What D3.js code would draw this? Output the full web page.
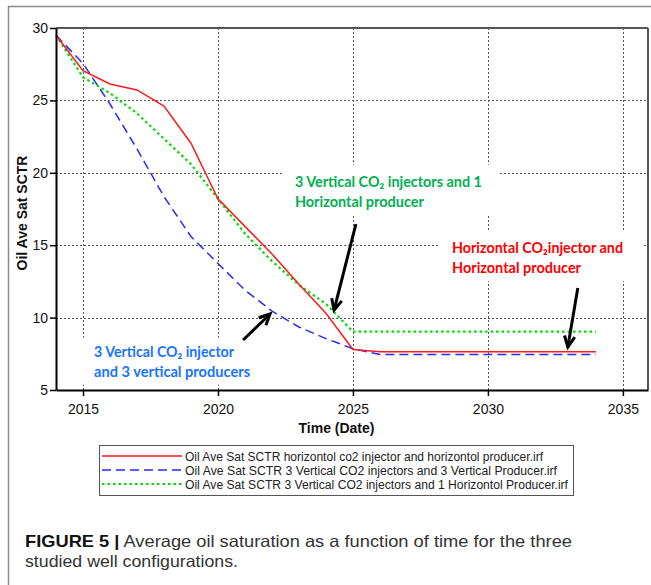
<!DOCTYPE html>
<html>
<head>
<meta charset="utf-8">
<script src="https://cdn.jsdelivr.net/npm/d3@7"></script>
<style>
  html, body { margin: 0; padding: 0; background: #fff; }
  svg { display: block; }
</style>
</head>
<body>
<script>
// ---------- data ----------
const years = [2014, 2015, 2016, 2017, 2018, 2019, 2020, 2021, 2022, 2023, 2024, 2025, 2026, 2027, 2028, 2029, 2030, 2031, 2032, 2033, 2034];
const redHoriz = [29.5, 27.05, 26.13, 25.72, 24.61, 22.04, 18.2, 16.3, 14.4, 12.3, 10.3, 7.8, 7.65, 7.65, 7.65, 7.65, 7.65, 7.65, 7.65, 7.65, 7.65];
const blueVert = [29.5, 27.55, 24.75, 21.65, 18.35, 15.6, 13.74, 11.9, 10.45, 9.35, 8.55, 7.85, 7.45, 7.45, 7.45, 7.45, 7.45, 7.45, 7.45, 7.45, 7.45];
const greenMix = [29.5, 26.6, 25.5, 24.1, 22.35, 20.6, 18.2, 15.8, 13.9, 12.25, 10.95, 9.03, 9.03, 9.03, 9.03, 9.03, 9.03, 9.03, 9.03, 9.03, 9.03];

const xTicks = [2015, 2020, 2025, 2030, 2035];
const yTicks = [5, 10, 15, 20, 25, 30];

const legendLabels = [
  "Oil Ave Sat SCTR horizontol co2 injector and horizontol producer.irf",
  "Oil Ave Sat SCTR 3 Vertical CO2 injectors and 3 Vertical Producer.irf",
  "Oil Ave Sat SCTR 3 Vertical CO2 injectors and 1 Horizontol Producer.irf"
];

const annGreenLines = ["3 Vertical CO\u2082 injectors and 1", "Horizontal producer"];
const annRedLines = ["Horizontal CO\u2082injector and", "Horizontal producer"];
const annBlueLines = ["3 Vertical CO\u2082 injector", "and 3 vertical producers"];
// anchor (year, value) of first-line baseline start
const annGreenAt = [2022.85, 19.04];
const annRedAt = [2028.67, 14.46];
const annBlueAt = [2015.41, 7.3];
// arrows: [fromYear, fromVal, toYear, toVal]
const arrowBlue = [2020.93, 8.45, 2021.93, 10.25];
const arrowGreen = [2025.11, 16.46, 2024.3, 10.52];
const arrowRed = [2033.33, 12.04, 2032.96, 7.97];

const captionBold = "FIGURE 5 |";
const captionLine1 = " Average oil saturation as a function of time for the three";
const captionLine2 = "studied well configurations.";

// ---------- layout ----------
const W = 651, H = 585;
const svg = d3.select("body").append("svg").attr("width", W).attr("height", H);
svg.append("rect").attr("width", W).attr("height", H).attr("fill", "#fff");

// outer frame
svg.append("line").attr("x1", 8).attr("x2", 651).attr("y1", 6.5).attr("y2", 6.5).attr("stroke", "#8a8a8a").attr("stroke-width", 1.5);
svg.append("line").attr("x1", 8.5).attr("x2", 8.5).attr("y1", 6).attr("y2", 585).attr("stroke", "#8a8a8a").attr("stroke-width", 1.5);

const L = 56, R = 648, T = 28, B = 390;
const x = d3.scaleLinear().domain([2014, 2035.93]).range([L, R]);
const y = d3.scaleLinear().domain([5, 30]).range([B, T]);

const g = svg.append("g");

// grid
g.selectAll(".vg").data(xTicks).join("line")
  .attr("x1", d => Math.round(x(d)) + 0.5).attr("x2", d => Math.round(x(d)) + 0.5)
  .attr("y1", T).attr("y2", B)
  .attr("stroke", "#555").attr("stroke-width", 1).attr("stroke-dasharray", "2,2");
g.selectAll(".hg").data(yTicks.filter(d => d > 5 && d < 30)).join("line")
  .attr("x1", L).attr("x2", R)
  .attr("y1", d => Math.round(y(d)) + 0.5).attr("y2", d => Math.round(y(d)) + 0.5)
  .attr("stroke", "#555").attr("stroke-width", 1).attr("stroke-dasharray", "2,2");

// annotation groups (white boxes hide grid)
const annFont = "'Lato', 'Open Sans', 'DejaVu Sans', sans-serif";
function annotation(lines, at, color, widths, pad) {
  const ag = g.append("g");
  const box = ag.append("rect").attr("fill", "#fff");
  const x0 = x(at[0]), y0 = y(at[1]);
  lines.forEach((ln, i) => {
    ag.append("text")
      .attr("x", x0).attr("y", y0 + i * 20)
      .attr("font-family", annFont).attr("font-weight", 700)
      .attr("font-size", 14.5).attr("fill", color)
      .attr("textLength", widths[i]).attr("lengthAdjust", "spacingAndGlyphs")
      .text(ln);
  });
  const maxW = Math.max(...widths);
  box.attr("x", x0 - pad[0]).attr("y", y0 - 12 - pad[1])
     .attr("width", maxW + pad[0] + pad[2]).attr("height", 20 + 16 + pad[1] + pad[3]);
  return ag;
}

// series
const series = [
  { vals: redHoriz, color: "#ff1a1a", dash: null, w: 1.5 },
  { vals: blueVert, color: "#2a2aff", dash: "9,5", w: 1.5 },
  { vals: greenMix, color: "#00dd00", dash: "2.5,3", w: 2.2 }
];
const line = d3.line().x((d, i) => x(years[i])).y(d => y(d));

annotation(annGreenLines, annGreenAt, "#00b050", [187, 129], [12, 10, 18, 4]);
annotation(annRedLines, annRedAt, "#ff0000", [171, 129], [14, 11, 20, 4]);
annotation(annBlueLines, annBlueAt, "#1a73ff", [140, 156], [20, 7, 14, 4]);

[series[2], series[1], series[0]].forEach(s => {
  g.append("path").attr("d", line(s.vals))
    .attr("fill", "none").attr("stroke", s.color).attr("stroke-width", s.w)
    .attr("stroke-dasharray", s.dash);
});

// arrows
function arrow(a) {
  const x1 = x(a[0]), y1 = y(a[1]), x2 = x(a[2]), y2 = y(a[3]);
  const ang = Math.atan2(y2 - y1, x2 - x1);
  const hl = 12, ha = Math.PI / 7;
  g.append("line").attr("x1", x1).attr("y1", y1).attr("x2", x2).attr("y2", y2)
    .attr("stroke", "#000").attr("stroke-width", 3);
  const p = [
    [x2 - hl * Math.cos(ang - ha), y2 - hl * Math.sin(ang - ha)],
    [x2, y2],
    [x2 - hl * Math.cos(ang + ha), y2 - hl * Math.sin(ang + ha)]
  ];
  g.append("path").attr("d", d3.line()(p)).attr("fill", "none")
    .attr("stroke", "#000").attr("stroke-width", 3).attr("stroke-linejoin", "miter");
}
arrow(arrowBlue); arrow(arrowGreen); arrow(arrowRed);

// plot border top/right
g.append("line").attr("x1", L).attr("x2", R).attr("y1", T).attr("y2", T).attr("stroke", "#555").attr("stroke-width", 2);
g.append("line").attr("x1", R).attr("x2", R).attr("y1", T).attr("y2", B).attr("stroke", "#555").attr("stroke-width", 2);

// axes
const xAxis = d3.axisBottom(x).tickValues(xTicks).tickFormat(d3.format("d")).tickSize(6).tickSizeOuter(0);
const yAxis = d3.axisLeft(y).tickValues(yTicks).tickFormat(d3.format("d")).tickSize(6).tickSizeOuter(0);
const gx = svg.append("g").attr("transform", `translate(0,${B})`).call(xAxis);
const gy = svg.append("g").attr("transform", `translate(${L},0)`).call(yAxis);
[gx, gy].forEach(a => {
  a.select(".domain").attr("stroke", "#000").attr("stroke-width", 2);
  a.selectAll(".tick line").attr("stroke", "#000").attr("stroke-width", 1.5);
  a.selectAll("text").attr("font-family", "'Liberation Sans', Arial, sans-serif").attr("font-size", 14).attr("fill", "#111");
});
gx.selectAll("text").attr("dy", "1.05em");
gy.selectAll("text").attr("x", -8);

// axis titles
svg.append("text").attr("x", 336.5).attr("y", 433)
  .attr("text-anchor", "middle").attr("font-family", "'Liberation Sans', Arial, sans-serif")
  .attr("font-weight", 700).attr("font-size", 14).attr("fill", "#111").text("Time (Date)");
svg.append("text").attr("transform", "translate(27,213) rotate(-90)")
  .attr("text-anchor", "middle").attr("font-family", "'Liberation Sans', Arial, sans-serif")
  .attr("font-weight", 700).attr("font-size", 14).attr("fill", "#111").text("Oil Ave Sat SCTR");

// legend
const lg = svg.append("g");
lg.append("rect").attr("x", 99.5).attr("y", 445.5).attr("width", 474).attr("height", 50)
  .attr("fill", "#fff").attr("stroke", "#555").attr("stroke-width", 1);
const legendW = [358, 372, 383];
legendLabels.forEach((lab, i) => {
  const yy = 456 + i * 14;
  const s = series[i];
  lg.append("line").attr("x1", 102).attr("x2", 182).attr("y1", yy).attr("y2", yy)
    .attr("stroke", s.color).attr("stroke-width", s.w).attr("stroke-dasharray", s.dash);
  lg.append("text").attr("x", 185).attr("y", yy + 4.5)
    .attr("font-family", "'Liberation Sans', Arial, sans-serif").attr("font-size", 12.5)
    .attr("fill", "#222").attr("textLength", legendW[i]).attr("lengthAdjust", "spacingAndGlyphs")
    .text(lab);
});

// caption
const cap1 = svg.append("text").attr("x", 25).attr("y", 547)
  .attr("font-family", "'Liberation Sans', Arial, sans-serif").attr("font-size", 16.5).attr("fill", "#333")
  .attr("textLength", 547).attr("lengthAdjust", "spacingAndGlyphs");
cap1.append("tspan").attr("font-weight", 700).attr("fill", "#111").text(captionBold);
cap1.append("tspan").text(captionLine1);
svg.append("text").attr("x", 25).attr("y", 567)
  .attr("font-family", "'Liberation Sans', Arial, sans-serif").attr("font-size", 16.5).attr("fill", "#333")
  .attr("textLength", 213).attr("lengthAdjust", "spacingAndGlyphs")
  .text(captionLine2);
</script>
</body>
</html>
